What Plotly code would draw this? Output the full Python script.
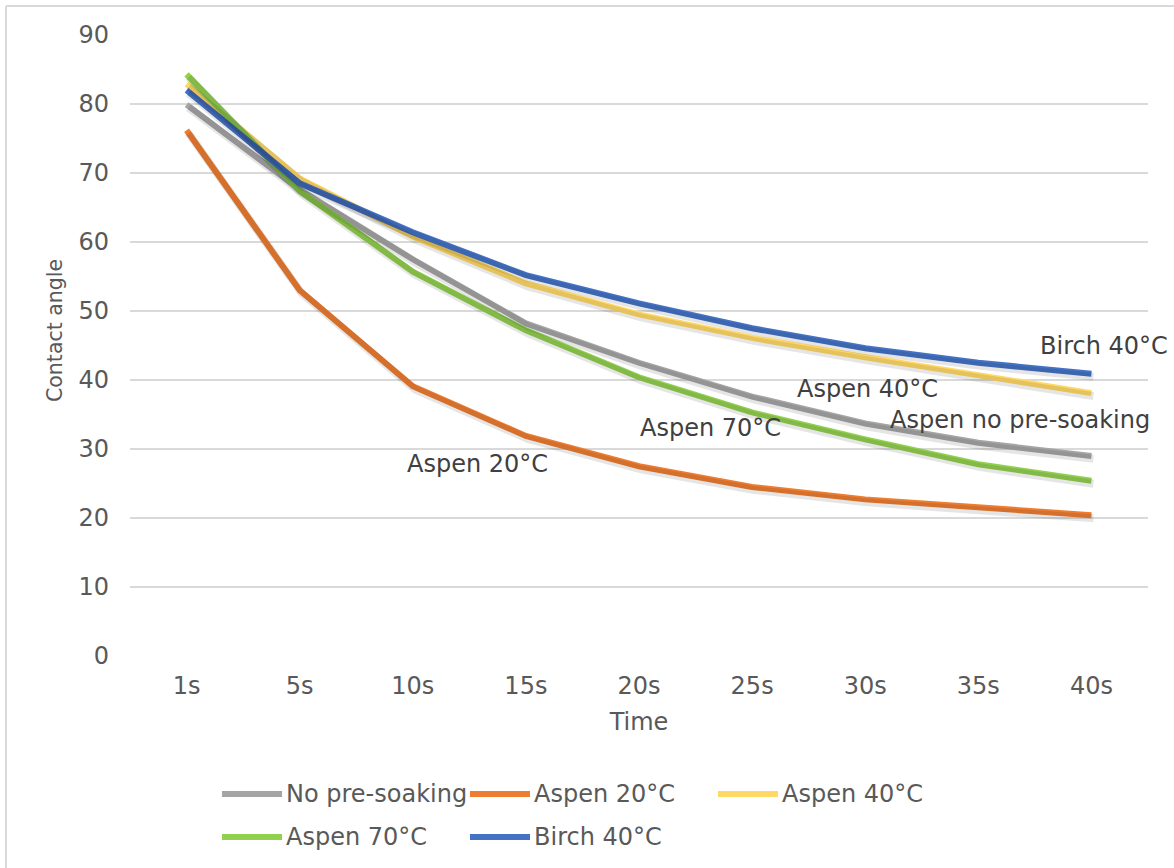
import plotly.graph_objects as go

# Contact angle over time for pre-soaked veneer samples
times = ["1s", "5s", "10s", "15s", "20s", "25s", "30s", "35s", "40s"]

no_presoak = [79.9, 67.6, 57.5, 48.2, 42.5, 37.6, 33.7, 30.9, 29.0]
aspen_20 = [76.2, 53.0, 39.1, 31.9, 27.5, 24.5, 22.7, 21.5, 20.4]
aspen_40 = [82.9, 69.2, 60.8, 54.0, 49.5, 46.1, 43.3, 40.8, 38.1]
aspen_70 = [84.3, 67.4, 55.7, 47.2, 40.4, 35.3, 31.4, 27.8, 25.4]
birch_40 = [82.0, 68.5, 61.4, 55.2, 51.1, 47.5, 44.6, 42.5, 40.9]

series_names = ["No pre-soaking", "Aspen 20°C", "Aspen 40°C", "Aspen 70°C", "Birch 40°C"]
series_values = [no_presoak, aspen_20, aspen_40, aspen_70, birch_40]
colors = ["#A5A5A5", "#ED7D31", "#FFD966", "#92D050", "#4472C4"]

# labels written next to the curves
curve_labels = ["Aspen 20°C", "Aspen 70°C", "Aspen 40°C", "Aspen no pre-soaking", "Birch 40°C"]
curve_label_x = [2.57, 4.63, 6.02, 7.37, 8.11]
curve_label_y = [27.8, 33.0, 38.7, 34.2, 44.9]

W, H = 1174, 868
ML, MR, MT, MB = 130, 26, 35, 212
PW, PH = W - ML - MR, H - MT - MB
FONT = "DejaVu Sans"

X_RANGE = [-0.5, len(times) - 0.5]
Y_RANGE = [0, 90]


def px_x(px):
    return (px - ML) / PW


def px_y(py):
    return (H - MB - py) / PH


# soft drop shadow: same data on an overlay axis pair nudged right/down
sh_dx = 2 * (X_RANGE[1] - X_RANGE[0]) / PW
sh_dy = 3 * (Y_RANGE[1] - Y_RANGE[0]) / PH

fig = go.Figure()
for name, vals in zip(series_names, series_values):
    fig.add_trace(go.Scatter(
        x=list(range(len(times))), y=vals, mode="lines", name=name + " shadow",
        line=dict(color="rgba(0,0,0,0.10)", width=8), showlegend=False,
        hoverinfo="skip", xaxis="x2", yaxis="y2",
    ))
for name, vals, col in zip(series_names, series_values, colors):
    fig.add_trace(go.Scatter(
        x=list(range(len(times))), y=vals, mode="lines", name=name,
        line=dict(color=col, width=6), showlegend=False,
    ))

annotations = []
for txt, ax, ay in zip(curve_labels, curve_label_x, curve_label_y):
    annotations.append(dict(
        x=ax, y=ay, xref="x", yref="y", text=txt, showarrow=False,
        font=dict(family=FONT, size=24, color="#404040"),
    ))

# y axis title
annotations.append(dict(
    x=px_x(55), y=px_y(331), xref="paper", yref="paper", text="Contact angle",
    textangle=-90, showarrow=False, xanchor="center", yanchor="middle",
    font=dict(family=FONT, size=20.5, color="#595959"),
))

# legend drawn as swatches and labels below the plot
shapes = []
legend_slots = [(222, 794), (470, 794), (718, 794), (222, 837), (470, 837)]
for (lx, ly), name, col in zip(legend_slots, series_names, colors):
    shapes.append(dict(
        type="line", xref="paper", yref="paper",
        x0=px_x(lx), x1=px_x(lx + 60), y0=px_y(ly), y1=px_y(ly),
        line=dict(color=col, width=6),
    ))
    annotations.append(dict(
        x=px_x(lx + 62), y=px_y(ly), xref="paper", yref="paper",
        xanchor="left", yanchor="middle", text=name, showarrow=False,
        font=dict(family=FONT, size=24, color="#595959"),
    ))

# chart frame
shapes.append(dict(type="line", xref="paper", yref="paper",
                   x0=px_x(6), x1=px_x(6), y0=px_y(6), y1=px_y(H + 10),
                   line=dict(color="#D9D9D9", width=2)))
shapes.append(dict(type="line", xref="paper", yref="paper",
                   x0=px_x(6), x1=px_x(W + 10), y0=px_y(6), y1=px_y(6),
                   line=dict(color="#D9D9D9", width=2)))

fig.update_layout(
    width=W, height=H,
    margin=dict(l=ML, r=MR, t=MT, b=MB),
    paper_bgcolor="white", plot_bgcolor="white",
    font=dict(family=FONT, color="#595959"),
    showlegend=False,
    shapes=shapes,
    annotations=annotations,
    xaxis=dict(
        range=X_RANGE,
        tickmode="array", tickvals=list(range(len(times))), ticktext=times,
        showgrid=False, zeroline=False, showline=False, ticks="",
        tickfont=dict(size=24, color="#595959"),
        ticklabelstandoff=13,
        title=dict(text="Time", font=dict(size=24, color="#595959"), standoff=14),
    ),
    yaxis=dict(
        range=Y_RANGE, dtick=10, tick0=0,
        showgrid=True, gridcolor="#D9D9D9", gridwidth=2,
        zeroline=False, showline=False, ticks="",
        tickfont=dict(size=24, color="#595959"),
        ticklabelstandoff=20,
    ),
    xaxis2=dict(range=[X_RANGE[0] - sh_dx, X_RANGE[1] - sh_dx], overlaying="x",
                visible=False, anchor="y2"),
    yaxis2=dict(range=[Y_RANGE[0] + sh_dy, Y_RANGE[1] + sh_dy], overlaying="y",
                visible=False, anchor="x2"),
)

fig.write_html("out.html")
